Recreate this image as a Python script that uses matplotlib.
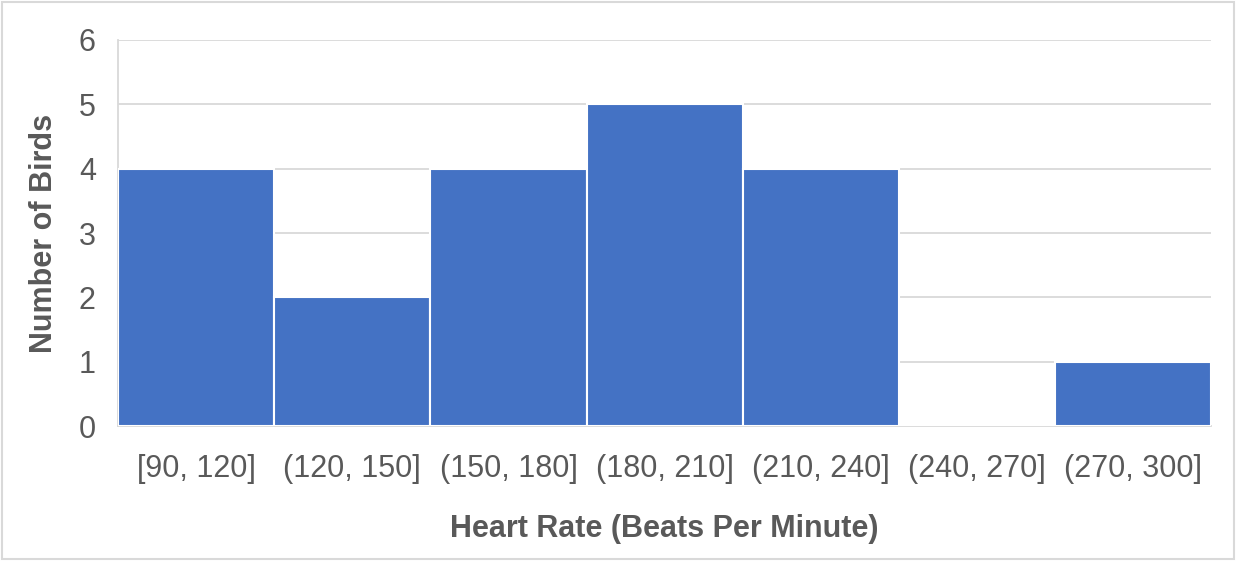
import matplotlib.pyplot as plt
from matplotlib.patches import Rectangle

bins = ['[90, 120]', '(120, 150]', '(150, 180]', '(180, 210]', '(210, 240]', '(240, 270]', '(270, 300]']
counts = [4, 2, 4, 5, 4, 0, 1]
yticks = [0, 1, 2, 3, 4, 5, 6]

plt.rcParams['font.family'] = ['Liberation Sans', 'DejaVu Sans']
grey = '#595959'

fig = plt.figure(figsize=(12.36, 5.61), dpi=100)
ax = fig.add_axes([0.0955, 0.2406, 0.8845, 0.6881])

x = list(range(len(bins)))
ax.bar(x, counts, width=1.0, color='#4472C4', edgecolor='white', linewidth=1.5, zorder=3)

ax.set_xlim(-0.5, len(bins) - 0.5)
ax.set_ylim(0, 6)
ax.set_yticks(yticks)
ax.set_xticks(x)
ax.set_xticklabels(bins)
ax.grid(axis='y', color='#d9d9d9', linewidth=1.3, zorder=0)
ax.tick_params(axis='both', length=0, labelsize=22, colors=grey)
ax.tick_params(axis='x', pad=20)
ax.tick_params(axis='y', pad=16)

for s in ['top', 'right']:
    ax.spines[s].set_visible(False)
ax.spines['left'].set_color('#d9d9d9')
ax.spines['bottom'].set_color('#d9d9d9')
ax.spines['left'].set_linewidth(1.3)
ax.spines['bottom'].set_linewidth(1.3)

ax.set_xlabel('Heart Rate (Beats Per Minute)', fontsize=22, fontweight='bold', color=grey, labelpad=22)
ax.set_ylabel('Number of Birds', fontsize=22, fontweight='bold', color=grey, labelpad=14)

# light border around the figure
fig.patches.append(Rectangle((0.002, 0.003), 0.996, 0.994, transform=fig.transFigure,
                             fill=False, edgecolor='#d9d9d9', linewidth=1.5))

fig.savefig('out.png', dpi=100)
